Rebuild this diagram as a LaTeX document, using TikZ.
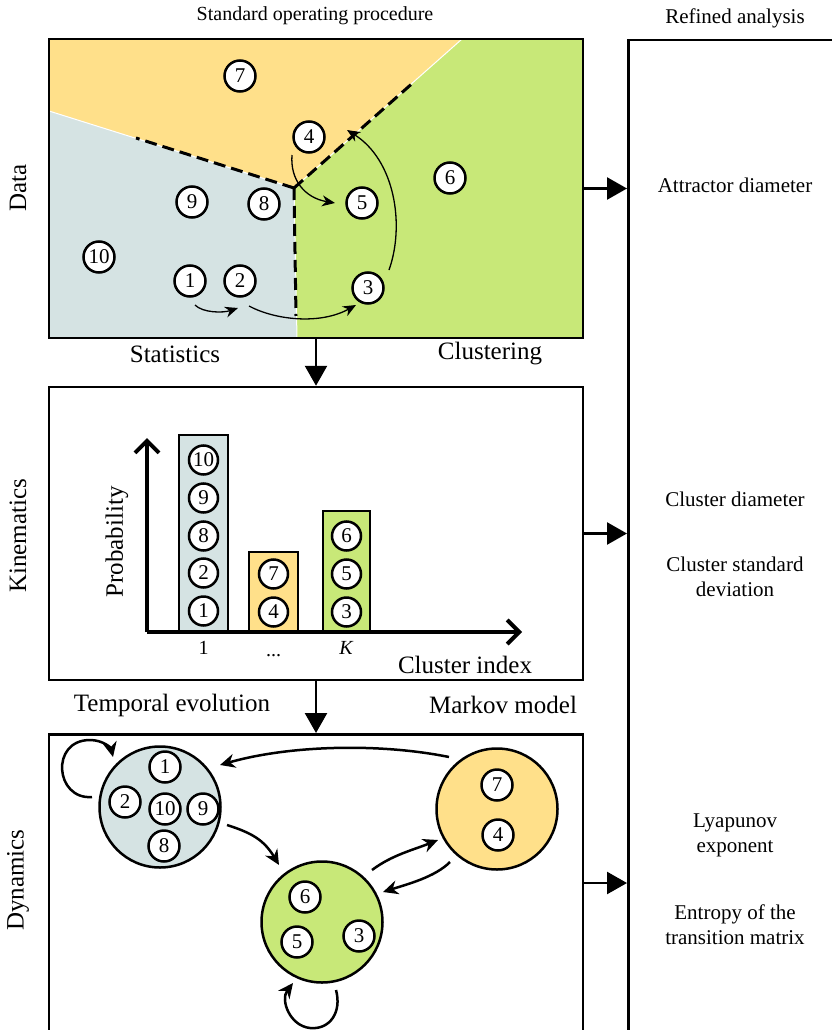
\documentclass[tikz,border=0pt]{standalone}
\usepackage{fontspec}
\setmainfont{Liberation Serif}
\usetikzlibrary{arrows.meta,calc}
\definecolor{corange}{HTML}{FFE08A}
\definecolor{cgray}{HTML}{D5E3E3}
\definecolor{cgreen}{HTML}{C8E878}
\begin{document}
\begin{tikzpicture}[x={(1pt,0pt)},y={(0pt,-1pt)},
  num/.style={circle,draw,fill=white,line width=2.5pt,minimum size=31pt,inner sep=0pt,font=\fontsize{21}{21}\selectfont},
  barnum/.style={num,minimum size=29pt},
  panel/.style={draw,line width=2.5pt,rectangle,inner sep=0pt},
  flowarrow/.style={line width=2.5pt,-{Triangle[length=20pt,width=22pt]}},
  thinarrow/.style={line width=1.3pt,-{Stealth[length=13pt,width=11pt]}},
  markov/.style={line width=2.5pt,-{Stealth[length=15pt,width=14pt]}},
  cluster/.style={circle,draw,line width=2.5pt,minimum size=121pt,inner sep=0pt},
  bar/.style={draw,line width=2pt,anchor=south,inner sep=0pt},
  bigtext/.style={font=\fontsize{25}{28}\selectfont},
  midtext/.style={font=\fontsize{21}{25}\selectfont,align=center},
  ticktext/.style={font=\fontsize{20}{20}\selectfont},
  dashline/.style={line width=3pt,dash pattern=on 12pt off 6pt},
]
\useasboundingbox (0,0) rectangle (831,1030);

% ---------- Panel 1: Data ----------
\coordinate (J) at (294,188);
\fill[corange] (49,39) -- (462,39) -- (J) -- (49,111) -- cycle;
\fill[cgreen] (462,39) -- (583,39) -- (583,338) -- (297,338) -- (J) -- cycle;
\fill[cgray] (49,111) -- (J) -- (297,338) -- (49,338) -- cycle;
\draw[white,line width=1pt] (462,39) -- (J) -- (49,111) (J) -- (297,338);
\draw[dashline] (J) -- (415,81);
\draw[dashline] (J) -- (136,138);
\draw[dashline] (J) -- (296,316);
\node[panel,minimum width=534pt,minimum height=299pt] (P1) at (316,188.5) {};

\node[num] (d7) at (240,76) {7};
\node[num] (d4) at (309,137) {4};
\node[num] (d6) at (450,178) {6};
\node[num] (d9) at (192,202) {9};
\node[num] (d8) at (264,204) {8};
\node[num] (d5) at (362,203) {5};
\node[num] (d10) at (99,257) {10};
\node[num] (d1) at (190,281) {1};
\node[num] (d2) at (240,281) {2};
\node[num] (d3) at (368,288) {3};

\draw[thinarrow] ($(d1)+(5,24)$) .. controls +(8,8) and +(-15,5) .. ($(d2)+(-2,27)$);
\draw[thinarrow] ($(d2)+(9,25)$) .. controls +(26,14) and +(-36,20) .. ($(d3)+(-12,17)$);
\draw[thinarrow] ($(d3)+(21,-18)$) .. controls +(16,-45) and +(48,30) .. ($(d4)+(38,-7)$);
\draw[thinarrow] ($(d4)+(-17,18)$) .. controls +(-2,25) and +(-30,-5) .. ($(d5)+(-27,0)$);

\node[midtext,font=\fontsize{20}{24}\selectfont] (t1) at (315,16) {Standard operating procedure};
\node[midtext] (t2) at (735,18) {Refined analysis};
\node[bigtext] (lstat) at (175,354) {Statistics};
\node[bigtext] (lclu) at (490,354) {Clustering};
\node[bigtext,rotate=90] (ldata) at (18,188) {Data};

% ---------- Panel 2: Kinematics ----------
\node[panel,minimum width=534pt,minimum height=293pt] (P2) at (316,533.5) {};
\node[bar,fill=cgray,minimum width=49pt,minimum height=196pt] (bar1) at (203.5,632) {};
\node[bar,fill=corange,minimum width=49pt,minimum height=79pt] (bar2) at (273.5,632) {};
\node[bar,fill=cgreen,minimum width=47pt,minimum height=120pt] (bar3) at (346.5,632) {};
\coordinate (O) at (147,632);
\draw[line width=4pt,-{Straight Barb[length=12pt,width=24pt]}] (O) -- (147,438);
\draw[line width=4pt,-{Straight Barb[length=12pt,width=24pt]}] (O) -- (522,632);

\node[barnum] (b10) at (203.5,460) {10};
\node[barnum] (b9) at (203.5,498) {9};
\node[barnum] (b8) at (203.5,536) {8};
\node[barnum] (b2) at (203.5,573) {2};
\node[barnum] (b1) at (203.5,611) {1};
\node[barnum] (b7) at (273.5,574) {7};
\node[barnum] (b4) at (273.5,612) {4};
\node[barnum] (b6) at (346.5,536) {6};
\node[barnum] (b5) at (346.5,574) {5};
\node[barnum] (b3) at (346.5,612) {3};

\node[ticktext] (k1) at (203.5,648) {1};
\node[ticktext,anchor=base] (kd) at (273.5,656) {...};
\node[ticktext] (kK) at (346.5,648) {\textit{K}};
\node[bigtext] (lci) at (465,665) {Cluster index};
\node[bigtext,rotate=90] (lprob) at (117,542) {Probability};
\node[bigtext,rotate=90] (lkin) at (18,536) {Kinematics};
\node[bigtext] (ltemp) at (172,705) {Temporal evolution};
\node[bigtext] (lmark) at (503,705) {Markov model};

% ---------- Panel 3: Dynamics ----------
\node[panel,minimum width=534pt,minimum height=330pt,anchor=north] (P3) at (316,733) {};
\node[bigtext,rotate=90] (ldyn) at (18,880) {Dynamics};

\node[cluster,fill=cgray] (G) at (160,807) {};
\node[cluster,fill=corange] (Or) at (497,809) {};
\node[cluster,fill=cgreen] (Gr) at (322,922) {};

\node[num] (m1) at (165,767) {1};
\node[num] (m2) at (125,802) {2};
\node[num] (m10) at (165,809) {10};
\node[num] (m9) at (203,809) {9};
\node[num] (m8) at (164,846) {8};
\node[num] (m7) at (497,785) {7};
\node[num] (m4) at (498,835) {4};
\node[num] (m6) at (305,897) {6};
\node[num] (m5) at (297,942) {5};
\node[num] (m3) at (359,936) {3};

\draw[markov] ($(Or)+(-48,-52)$) .. controls +(-69,-14) and +(70,-20) .. ($(G)+(60,-42)$);
\draw[markov] ($(G)+(67,18)$) .. controls +(25,8) and +(-15,-25) .. ($(Gr)+(-43,-57)$);
\draw[markov] ($(Gr)+(50,-52)$) .. controls +(20,-15) and +(-25,10) .. ($(Or)+(-59,31)$);
\draw[markov] ($(Or)+(-47,53)$) .. controls +(-15,15) and +(25,-8) .. ($(Gr)+(61,-30)$);
\draw[markov] ($(G)+(-68,-10)$) .. controls +(-37,3) and +(-40,0) .. ($(G)+(-70,-67)$)
   .. controls +(13,0) and +(-2,-9) .. ($(G)+(-47,-50)$);
\draw[markov] ($(Gr)+(14,68)$) .. controls +(6,22) and +(20,2) .. ($(Gr)+(-12,106)$)
   .. controls +(-20,-2) and +(-13,17) .. ($(Gr)+(-29,61)$);

% ---------- Refined analysis frame ----------
\node[panel,minimum width=240pt,minimum height=1040pt,anchor=north west] (R) at (627,39) {};
\node[midtext] (r1) at (735,185) {Attractor diameter};
\node[midtext] (r2) at (735,499) {Cluster diameter};
\node[midtext] (r3) at (735,577) {Cluster standard\\deviation};
\node[midtext] (r4) at (735,835) {Lyapunov\\exponent};
\node[midtext] (r5) at (735,925) {Entropy of the\\transition matrix};

% ---------- flow arrows ----------
\draw[flowarrow] (P1.south) -- (P2.north);
\draw[flowarrow] (P2.south) -- (P3.north);
\draw[flowarrow] (P1.east) -- (P1.east -| R.west);
\draw[flowarrow] (P2.east) -- (P2.east -| R.west);
\coordinate (p3e) at (583,883);
\draw[flowarrow] (p3e) -- (p3e -| R.west);
\end{tikzpicture}
\end{document}
